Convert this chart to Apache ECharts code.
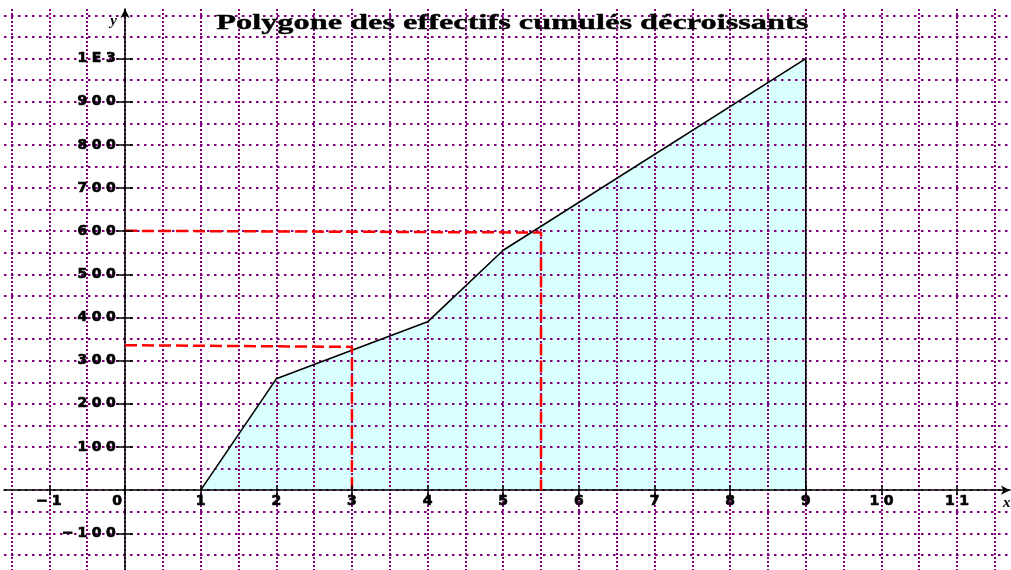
<!DOCTYPE html>
<html>
<head>
<meta charset="utf-8">
<script src="https://cdn.jsdelivr.net/npm/echarts@6/dist/echarts.min.js"></script>
<style>
  html, body { margin: 0; padding: 0; background: #ffffff; }
  #chart { width: 1011px; height: 570px; }
</style>
</head>
<body>
<div id="chart"></div>
<script>
// Cumulative frequency polygon: class boundaries and cumulative counts
const polyX = [1, 2, 4, 5, 9, 9];
const polyY = [0, 258, 390, 556, 1000, 0];

// Dashed reading guides (from the y axis to the curve, then down to the x axis)
const guideLowX = [0, 3, 3];
const guideLowY = [336, 332, 0];
const guideHighX = [0, 5.5, 5.5];
const guideHighY = [601, 597, 0];

// Axis ticks and their labels
const xTicks = [-1, 0, 1, 2, 3, 4, 5, 6, 7, 8, 9, 10, 11];
const xTickLabels = ['−1', '0', '1', '2', '3', '4', '5', '6', '7', '8', '9', '10', '11'];
const yTicks = [-100, 100, 200, 300, 400, 500, 600, 700, 800, 900, 1000];
const yTickLabels = ['−100', '100', '200', '300', '400', '500', '600', '700', '800', '900', '1E3'];

// Dotted grid positions (half steps)
const xGridLines = [-1.5, -1, -0.5, 0, 0.5, 1, 1.5, 2, 2.5, 3, 3.5, 4, 4.5, 5, 5.5, 6, 6.5, 7, 7.5, 8, 8.5, 9, 9.5, 10, 10.5, 11, 11.5];
const yGridLines = [-150, -100, -50, 0, 50, 100, 150, 200, 250, 300, 350, 400, 450, 500, 550, 600, 650, 700, 750, 800, 850, 900, 950, 1000, 1050, 1100];

const TITLE = 'Polygone des effectifs cumulés décroissants';

const X_MIN = -1.6, X_MAX = 11.7;
const Y_MIN = -185, Y_MAX = 1115;

const GRID_COLOR = '#800080';
const LABEL_FONT = 'DejaVu Sans';
const LABEL_SIZE = 14;

function pairs(xs, ys) { return xs.map((x, i) => [x, ys[i]]); }

// Wide, evenly spaced tick lettering: one fixed-width cell per character
function cells(s) {
  return s.split('').map(ch => '{c|' + ch + '}').join('');
}
const cellRich = {
  c: { width: 14.3, align: 'center', fontFamily: LABEL_FONT, fontWeight: 'bold', fontSize: LABEL_SIZE,
       color: '#000', textBorderColor: '#000', textBorderWidth: 0.7 },
  g: { width: 16, fontFamily: LABEL_FONT, fontSize: LABEL_SIZE }
};

function xLabel(v) {
  const i = xTicks.indexOf(Math.round(v * 1000) / 1000);
  if (i < 0) return '';
  const txt = cells(xTickLabels[i]);
  // the origin label sits left of the vertical axis
  return v === 0 ? txt + '{g| }' : txt;
}
function yLabel(v) {
  const i = yTicks.indexOf(Math.round(v));
  return i < 0 ? '' : cells(yTickLabels[i]);
}

// Title: bold serif, stretched horizontally
const TITLE_FONT = 'bold 21px "Liberation Serif"';
const meas = document.createElement('canvas').getContext('2d');
meas.font = TITLE_FONT;
const titleScale = 592 / meas.measureText(TITLE).width;

const AXIS_LINE = { color: '#000', width: 1.5 };
const LABEL_BASE = { fontFamily: LABEL_FONT, fontWeight: 'bold', fontSize: LABEL_SIZE, color: '#000' };

// Axes that only carry tick marks (one outward, one inward, so ticks cross the axis line)
function tickAxis(dim, ticks, inside, len) {
  return {
    type: 'value', min: dim === 'x' ? X_MIN : Y_MIN, max: dim === 'x' ? X_MAX : Y_MAX,
    position: dim === 'x' ? 'bottom' : 'left',
    axisLine: { show: false, onZero: false },
    axisTick: { show: true, inside: inside, length: len, customValues: ticks, lineStyle: AXIS_LINE },
    axisLabel: { show: false },
    splitLine: { show: false },
    z: 6
  };
}

const chart = echarts.init(document.getElementById('chart'), null, { renderer: 'canvas' });
chart.setOption({
  animation: false,
  backgroundColor: '#ffffff',
  grid: { left: 4, right: 1, top: 9, bottom: 0, containLabel: false, outerBoundsMode: 'none' },
  graphic: [{
    type: 'text', left: 216, top: 13, scaleX: titleScale, z: 100,
    style: { text: TITLE, font: TITLE_FONT, fill: '#000', stroke: '#000', lineWidth: 0.4 }
  }],
  xAxis: [
    {
      type: 'value', min: X_MIN, max: X_MAX, position: 'bottom',
      name: 'x', nameLocation: 'end', nameGap: -7,
      nameTextStyle: { fontFamily: 'Liberation Serif', fontStyle: 'italic', fontWeight: 'bold', fontSize: 15,
                       color: '#000', align: 'left', verticalAlign: 'top', padding: [5, 0, 0, 0] },
      axisLine: { show: true, onZero: false, symbol: ['none', 'arrow'], symbolSize: [7, 9], lineStyle: AXIS_LINE },
      axisTick: { show: false, customValues: xGridLines },
      axisLabel: Object.assign({ show: true, customValues: xTicks, margin: 4, formatter: xLabel, rich: cellRich }, LABEL_BASE),
      splitLine: { show: true, lineStyle: { color: GRID_COLOR, width: 2, type: [2, 2] } },
      z: 3
    },
    tickAxis('x', xTicks, false, 5),
    tickAxis('x', xTicks, true, 5)
  ],
  yAxis: [
    {
      type: 'value', min: Y_MIN, max: Y_MAX, position: 'left',
      name: 'y', nameLocation: 'end', nameGap: -20,
      nameTextStyle: { fontFamily: 'Liberation Serif', fontStyle: 'italic', fontWeight: 'bold', fontSize: 15,
                       color: '#000', align: 'right', padding: [0, 8, 0, 0] },
      axisLine: { show: true, onZero: false, symbol: ['none', 'arrow'], symbolSize: [7, 9], lineStyle: AXIS_LINE },
      axisTick: { show: false, customValues: yGridLines },
      axisLabel: Object.assign({ show: true, customValues: yTicks, margin: 7, formatter: yLabel, rich: cellRich }, LABEL_BASE),
      splitLine: { show: true, lineStyle: { color: GRID_COLOR, width: 2, type: [2.5, 4.5] } },
      z: 3
    },
    tickAxis('y', yTicks, false, 8),
    tickAxis('y', yTicks, true, 8)
  ],
  series: [
    {
      name: 'fill', type: 'line', xAxisIndex: 0, yAxisIndex: 0, z: 1, silent: true,
      data: pairs(polyX, polyY), symbol: 'none',
      lineStyle: { width: 0, opacity: 0 },
      areaStyle: { color: '#d9ffff', opacity: 1 }
    },
    {
      name: 'polygone', type: 'line', xAxisIndex: 0, yAxisIndex: 0, z: 4,
      data: pairs(polyX, polyY), symbol: 'none',
      lineStyle: { color: '#000', width: 1.6 }
    },
    {
      name: 'lecture1', type: 'line', xAxisIndex: 0, yAxisIndex: 0, z: 5,
      data: pairs(guideLowX, guideLowY), symbol: 'none',
      lineStyle: { color: '#ff0000', width: 2.5, type: [12, 5] }
    },
    {
      name: 'lecture2', type: 'line', xAxisIndex: 0, yAxisIndex: 0, z: 5,
      data: pairs(guideHighX, guideHighY), symbol: 'none',
      lineStyle: { color: '#ff0000', width: 2.5, type: [12, 5] }
    }
  ]
});

// Move both axes (line, ticks, labels) onto the origin, using the grid's own scales
const leftPx = chart.convertToPixel({ xAxisIndex: 0 }, X_MIN);
const zeroXPx = chart.convertToPixel({ xAxisIndex: 0 }, 0);
const bottomPx = chart.convertToPixel({ yAxisIndex: 0 }, Y_MIN);
const zeroYPx = chart.convertToPixel({ yAxisIndex: 0 }, 0);
const xOff = zeroYPx - bottomPx;
const yOff = leftPx - zeroXPx;
chart.setOption({
  xAxis: [{ offset: xOff }, { offset: xOff }, { offset: xOff }],
  yAxis: [{ offset: yOff }, { offset: yOff }, { offset: yOff }]
});
</script>
</body>
</html>
